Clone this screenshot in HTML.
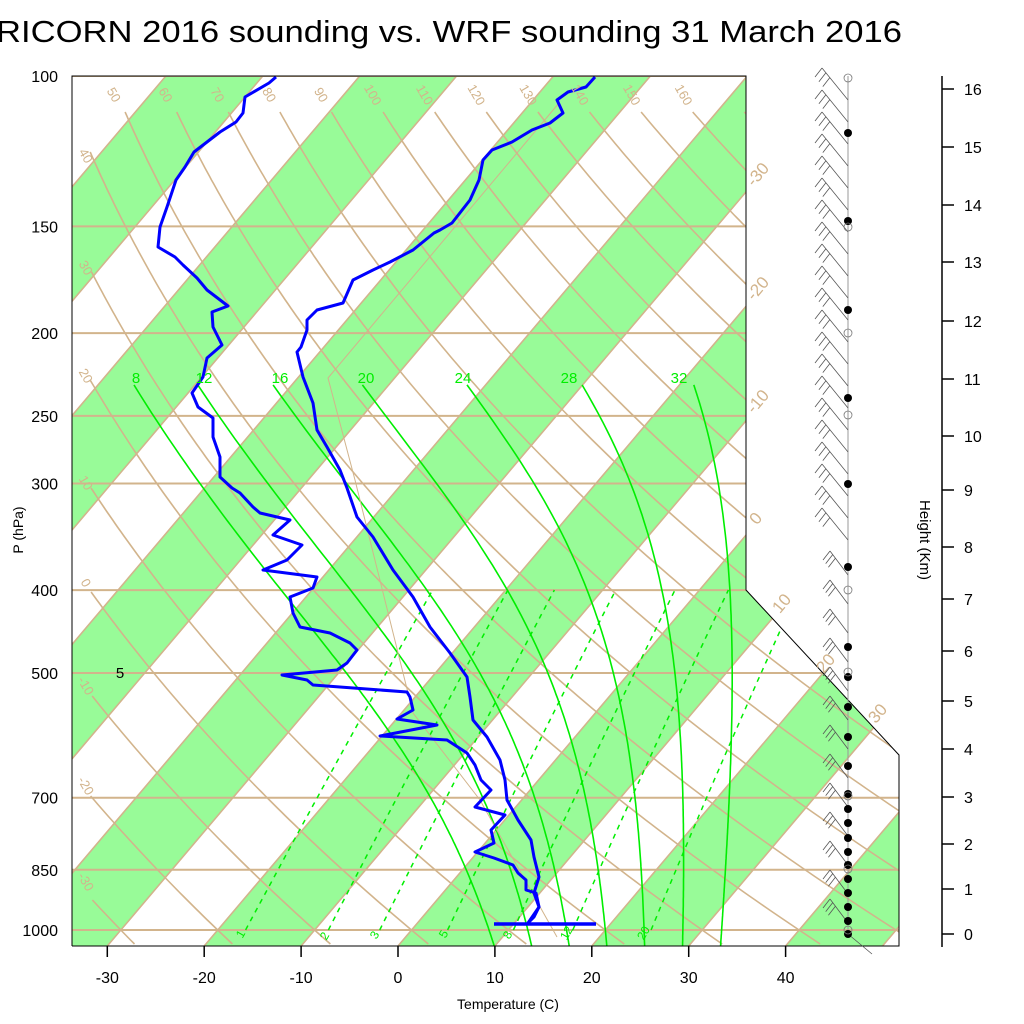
<!DOCTYPE html>
<html><head><meta charset="utf-8">
<style>
html,body{margin:0;padding:0;background:#fff;}
svg{display:block;font-family:"Liberation Sans",sans-serif;}
</style></head>
<body>
<svg id="s" width="1024" height="1024" viewBox="0 0 1024 1024" xmlns="http://www.w3.org/2000/svg">
<defs>
<clipPath id="pc"><polygon points="72,76 746,76 746,590 899,755 899,946 72,946"/></clipPath>
</defs>
<rect width="1024" height="1024" fill="#fff"/>
<text x="-4" y="42" font-size="31" textLength="906" lengthAdjust="spacingAndGlyphs">RICORN 2016 sounding vs. WRF sounding 31 March 2016</text>
<g id="plot" clip-path="url(#pc)"></g>
<g id="over"></g>
</svg>
<script>
(function(){
var NS="http://www.w3.org/2000/svg";
var plot=document.getElementById('plot'), over=document.getElementById('over');
function el(p,tag,a,txt){var e=document.createElementNS(NS,tag);for(var k in a)e.setAttribute(k,a[k]);if(txt!==undefined)e.textContent=txt;p.appendChild(e);return e;}
function Y(p){return 76+370.9*Math.log(p/100);}
function P(y){return 100*Math.exp((y-76)/370.9);}
function X(T,y){return 398+9.69*T+0.847*(946-y);}
var TAN="#d2b48c",GR="#98fb98",LIME="#00ee00";
for(var T1=-180;T1<=60;T1+=20){
 var a=X(T1,76),b=X(T1+10,76),c=X(T1+10,946),d=X(T1,946);
 el(plot,'polygon',{points:a+",76 "+b+",76 "+c+",946 "+d+",946",fill:GR});
}
[100,150,200,250,300,400,500,700,850,1000].forEach(function(p){var y=Y(p);
 el(plot,'line',{x1:72,y1:y,x2:900,y2:y,stroke:TAN,'stroke-width':2});
 el(over,'text',{x:58,y:y+6,'font-size':16,'text-anchor':'end'},String(p));
});
for(var T=-200;T<=60;T+=10){
 el(plot,'line',{x1:X(T,76),y1:76,x2:X(T,946),y2:946,stroke:TAN,'stroke-width':1.6});
}
for(var th=-30;th<=170;th+=10){
 var pts=[];
 for(var y=76;y<=946;y+=4){
  var p=P(y),Tk=(th+273.15)*Math.pow(p/1000,0.2857)-273.15,x=X(Tk,y);
  if(th>=50 && y<112) continue;
  if(th<50 && x<90) continue;
  pts.push(x.toFixed(1)+","+y);
 }
 if(pts.length>1) el(plot,'polyline',{points:pts.join(" "),fill:'none',stroke:TAN,'stroke-width':1.6});
}
[1,2,3,5,8,12,20].forEach(function(w){
 var pts=[];
 for(var y=930;y>=590;y-=5){var p=P(y),e=w*p/(622+w),l=Math.log(e/6.112),Td=243.5*l/(17.67-l);pts.push(X(Td,y).toFixed(1)+","+y);}
 el(plot,'polyline',{points:pts.join(" "),fill:'none',stroke:LIME,'stroke-width':1.5,'stroke-dasharray':'5,5'});
});
function es(Tc){return 6.112*Math.exp(17.67*Tc/(Tc+243.5));}
function dTdp(Tk,p){var Rd=287,cp=1004,Lv=2.5e6,eps=0.622;var rs=eps*es(Tk-273.15)/(p-es(Tk-273.15));
 return (1/p)*(Rd*Tk+Lv*rs)/(cp+Lv*Lv*rs*eps/(Rd*Tk*Tk));}
[8,12,16,20,24,28,32].forEach(function(tw){
 var up=[],Tk=tw+273.15,p=1000,dp=2;
 while(p>230){up.push([p,Tk]);var k=dTdp(Tk,p);Tk-=k*dp;p-=dp;} up.push([p,Tk]);
 var dn=[];Tk=tw+273.15;p=1000;
 while(p<1046){var k2=dTdp(Tk,p);Tk+=k2*dp;p+=dp;dn.push([p,Tk]);}
 var all=up.reverse().concat(dn),pts=[];
 all.forEach(function(q,i){if(i%3==0||i==all.length-1){var y=Y(q[0]);pts.push(X(q[1]-273.15,y).toFixed(1)+","+y.toFixed(1));}});
 el(plot,'polyline',{points:pts.join(" "),fill:'none',stroke:LIME,'stroke-width':1.6});
});
el(plot,'polyline',{points:"559,103 328,378 355,480 413,713 480,800 557,937",fill:'none',stroke:TAN,'stroke-width':1});
var tp="595,77 586,87 568,92 557,100 563,113 550,123 532,130 512,142 492,150 483,160 479,180 470,200 452,223 440,230 434,233 413,250 390,262 373,270 353,280 343,303 317,310 307,320 307,330 301,347 297,352 303,377 313,403 317,430 327,447 340,470 347,488 357,517 373,537 393,570 413,597 430,627 450,653 467,677 470,697 473,720 487,737 500,760 505,780 507,800 518,820 531,840 534,857 539,877 534,893 539,907 528,923";
var dp_="276,77 269,83 245,97 243,113 236,122 220,132 194,152 185,167 176,180 167,207 160,227 158,247 175,257 183,265 197,278 207,290 228,306 212,312 213,327 222,345 207,358 203,377 192,393 198,407 213,418 213,437 220,457 220,477 232,488 240,493 253,507 260,513 290,520 273,535 302,545 287,560 263,570 317,577 313,588 290,597 293,613 300,627 330,633 350,643 357,650 347,663 337,670 282,675 307,680 313,685 407,692 410,697 413,710 397,719 437,725 380,736 447,740 467,753 475,765 481,780 491,790 475,807 505,815 491,830 494,843 475,852 494,858 513,865 518,873 526,880 526,890 536,893 539,907 534,917 528,923";
[tp,dp_].forEach(function(s){el(plot,'polyline',{points:s,fill:'none',stroke:'#0000ff','stroke-width':3,'stroke-linejoin':'round'});});
el(plot,'line',{x1:494,y1:924,x2:596,y2:924,stroke:'#0000ff','stroke-width':3.5});
el(over,'polyline',{points:"72,946 72,76 746,76 746,590 899,755 899,946 72,946",fill:'none',stroke:'#000','stroke-width':1});
for(var t=-30;t<=40;t+=10){var x=X(t,946);el(over,'line',{x1:x,y1:946,x2:x,y2:957,stroke:'#000','stroke-width':1.5});
 el(over,'text',{x:x,y:983,'font-size':16,'text-anchor':'middle'},String(t));}
el(over,'text',{x:508,y:1009,'font-size':14,'text-anchor':'middle'},"Temperature (C)");
el(over,'text',{x:0,y:0,'font-size':14,'text-anchor':'middle',transform:'translate(23,530) rotate(-90)'},"P (hPa)");
el(over,'text',{x:120,y:678,'font-size':15,'text-anchor':'middle'},"5");
[[8,136],[12,204],[16,280],[20,366],[24,463],[28,569],[32,679]].forEach(function(q){el(over,'text',{x:q[1],y:383,'font-size':15,fill:LIME,'text-anchor':'middle'},String(q[0]));});
[[1,244,936],[2,328,938],[3,378,937],[5,447,936],[8,511,937],[12,570,935],[20,647,935]].forEach(function(q){el(over,'text',{x:0,y:0,'font-size':12,fill:LIME,'text-anchor':'middle',transform:'translate('+q[1]+','+q[2]+') rotate(-60)'},String(q[0]));});
var tl=[50,60,70,80,90,100,110,120,130,140,150,160];
tl.forEach(function(v,i){var x=110+i*51.8;el(over,'text',{x:0,y:0,'font-size':13,fill:TAN,'text-anchor':'middle',transform:'translate('+x+',97) rotate(60)'},String(v));});
[[40,158],[30,270],[20,378],[10,485],[0,585],[-10,688],[-20,788],[-30,884]].forEach(function(q){el(over,'text',{x:0,y:0,'font-size':13,fill:TAN,'text-anchor':'middle',transform:'translate(82,'+q[1]+') rotate(60)'},String(q[0]));});
[[-30,762,178],[-20,762,292],[-10,762,405],[0,760,522],[10,786,607],[20,830,667],[30,882,717]].forEach(function(q){el(over,'text',{x:0,y:0,'font-size':17,fill:TAN,'text-anchor':'middle',transform:'translate('+q[1]+','+q[2]+') rotate(-50)'},String(q[0]));});
el(over,'line',{x1:942,y1:76,x2:942,y2:947,stroke:'#000','stroke-width':1.5});
var hy=[934,889,844,797,749,701,651,599,547,490,436,379,321,262,205,147,89];
hy.forEach(function(y,i){el(over,'line',{x1:942,y1:y,x2:954,y2:y,stroke:'#000','stroke-width':1.5});
 el(over,'text',{x:964,y:y+6,'font-size':16},String(i));});
el(over,'text',{x:0,y:0,'font-size':15,'text-anchor':'middle',transform:'translate(920,540) rotate(90)'},"Height (Km)");
el(over,'line',{x1:848,y1:76,x2:848,y2:934,stroke:'#999','stroke-width':1});
function barb(y,dx,dy,n){var ex=848+dx,ey=y+dy;
 el(over,'line',{x1:848,y1:y,x2:ex,y2:ey,stroke:'#555','stroke-width':0.8});
 for(var j=0;j<n;j++){var f=j*0.15,sx=ex-dx*f,sy=ey-dy*f;
  el(over,'line',{x1:sx,y1:sy,x2:sx-7,y2:sy+9,stroke:'#555','stroke-width':0.8});}}
for(var y=100;y<=545;y+=22){barb(y,-26,-32,3);}
for(var y=575;y<=930;y+=29){barb(y,-18,-24,3);}
el(over,'line',{x1:848,y1:934,x2:872,y2:954,stroke:'#555','stroke-width':0.8});
var fd=[133,221,310,398,484,567,647,677,707,737,766,794,809,823,838,852,865,879,893,907,921,934];
fd.forEach(function(y){el(over,'circle',{cx:848,cy:y,r:4,fill:'#000'});});
[78,227,333,415,590,672,796,869,930].forEach(function(y){el(over,'circle',{cx:848,cy:y,r:4,fill:'none',stroke:'#777','stroke-width':0.8});});
})();
</script>
</body></html>
